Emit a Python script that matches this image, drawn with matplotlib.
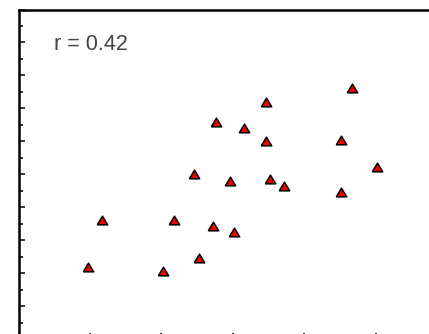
import matplotlib
matplotlib.use("Agg")
import matplotlib.pyplot as plt
from matplotlib.ticker import MultipleLocator

# scatter sample (x, y) and correlation label
x_vals = [0.97, 1.17, 2.02, 2.17, 2.52, 2.72, 3.01, 2.46, 2.96, 2.76,
          3.16, 3.46, 3.46, 3.52, 3.71, 4.51, 4.66, 5.01, 4.51]
y_vals = [2.20, 3.61, 2.05, 3.61, 2.45, 3.44, 3.25, 5.01, 4.80, 6.59,
          6.41, 7.20, 6.01, 4.85, 4.64, 6.04, 7.61, 5.23, 4.47]
r_value = 0.42

fig = plt.figure(figsize=(4.29, 3.34), dpi=100)
ax = fig.add_axes([18.5 / 429, -5 / 334, 1.0, 329.5 / 334])

# slightly wide triangle marker
tri = [(-1.0, -0.83), (1.0, -0.83), (0.0, 0.83), (-1.0, -0.83)]
ax.plot(x_vals, y_vals, linestyle="none", marker=tri, markersize=7.5,
        markerfacecolor="#ee0000", markeredgecolor="black",
        markeredgewidth=1.1, clip_on=False)

ax.set_xlim(0, 6)
ax.set_ylim(0, 10)
ax.xaxis.set_major_locator(MultipleLocator(1))
ax.xaxis.set_minor_locator(MultipleLocator(0.5))
ax.yaxis.set_major_locator(MultipleLocator(1))
ax.yaxis.set_minor_locator(MultipleLocator(0.5))
ax.tick_params(which="both", direction="in", labelleft=False,
               labelbottom=False, width=1.1, color="black")
ax.tick_params(which="major", length=4.3)
ax.tick_params(which="minor", length=2.6)
for side in ax.spines.values():
    side.set_linewidth(1.8)

ax.text(54 / 429, 1 - 34 / 334, f"r = {r_value:.2f}", transform=fig.transFigure,
        fontsize=15.5, family="Liberation Sans", color="#444444",
        ha="left", va="top")

fig.savefig("out.png", dpi=100)
